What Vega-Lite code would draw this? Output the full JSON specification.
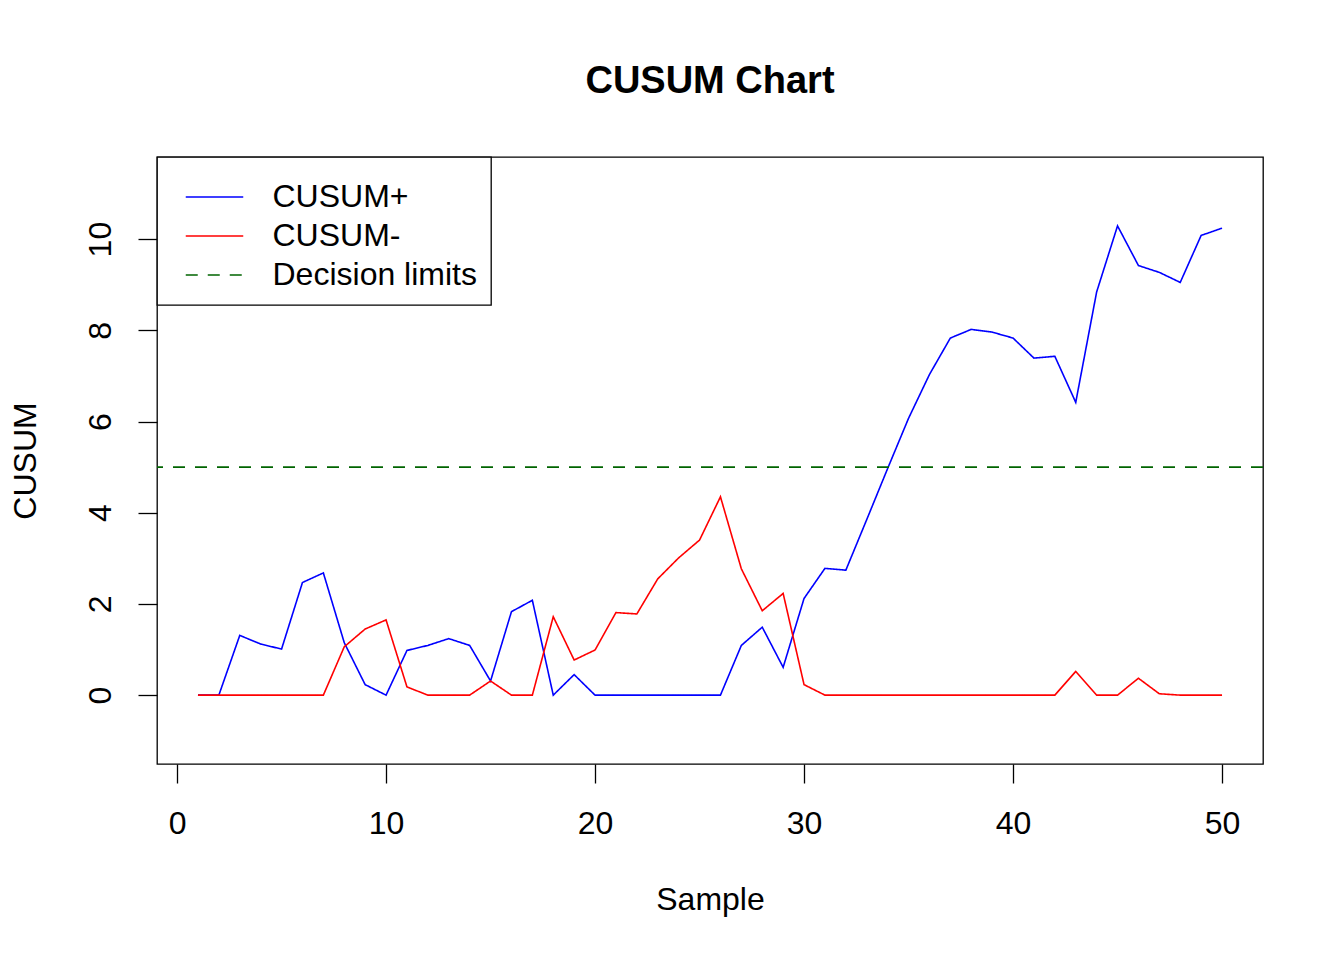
{
  "$schema": "https://vega.github.io/schema/vega-lite/v6.json",
  "width": 1106,
  "height": 607,
  "autosize": {"type": "none"},
  "padding": {"left": 157, "top": 157, "right": 81, "bottom": 196},
  "background": "white",
  "title": {"text": "CUSUM Chart", "fontSize": 38, "fontWeight": "bold", "font": "Liberation Sans", "color": "black", "anchor": "middle", "frame": "group", "baseline": "alphabetic", "offset": 25},
  "config": {
    "view": {"stroke": "black", "strokeWidth": 1.3},
    "legend": {
      "orient": "top-left", "offset": 0, "padding": 14,
      "strokeColor": "black", "strokeWidth": 1.3, "fillColor": "white", "cornerRadius": 0,
      "symbolType": "M-2.5,0H2.5", "symbolSize": 529, "symbolStrokeWidth": 1.6, "symbolOffset": 27.5,
      "labelFontSize": 32, "labelFont": "Liberation Sans", "labelColor": "black", "labelOffset": 42, "labelLimit": 0,
      "rowPadding": 7,
      "titleFontSize": 2, "titlePadding": 8, "titleColor": "white"
    }
  },
  "datasets": {
    "cusum": [
      {"sample": 1, "series": "CUSUM+", "value": 0},
      {"sample": 2, "series": "CUSUM+", "value": 0},
      {"sample": 3, "series": "CUSUM+", "value": 1.31},
      {"sample": 4, "series": "CUSUM+", "value": 1.12},
      {"sample": 5, "series": "CUSUM+", "value": 1.01},
      {"sample": 6, "series": "CUSUM+", "value": 2.47},
      {"sample": 7, "series": "CUSUM+", "value": 2.68},
      {"sample": 8, "series": "CUSUM+", "value": 1.15},
      {"sample": 9, "series": "CUSUM+", "value": 0.23},
      {"sample": 10, "series": "CUSUM+", "value": 0},
      {"sample": 11, "series": "CUSUM+", "value": 0.98},
      {"sample": 12, "series": "CUSUM+", "value": 1.09},
      {"sample": 13, "series": "CUSUM+", "value": 1.24},
      {"sample": 14, "series": "CUSUM+", "value": 1.09},
      {"sample": 15, "series": "CUSUM+", "value": 0.31},
      {"sample": 16, "series": "CUSUM+", "value": 1.83},
      {"sample": 17, "series": "CUSUM+", "value": 2.08},
      {"sample": 18, "series": "CUSUM+", "value": 0},
      {"sample": 19, "series": "CUSUM+", "value": 0.45},
      {"sample": 20, "series": "CUSUM+", "value": 0},
      {"sample": 21, "series": "CUSUM+", "value": 0},
      {"sample": 22, "series": "CUSUM+", "value": 0},
      {"sample": 23, "series": "CUSUM+", "value": 0},
      {"sample": 24, "series": "CUSUM+", "value": 0},
      {"sample": 25, "series": "CUSUM+", "value": 0},
      {"sample": 26, "series": "CUSUM+", "value": 0},
      {"sample": 27, "series": "CUSUM+", "value": 1.09},
      {"sample": 28, "series": "CUSUM+", "value": 1.49},
      {"sample": 29, "series": "CUSUM+", "value": 0.61},
      {"sample": 30, "series": "CUSUM+", "value": 2.12},
      {"sample": 31, "series": "CUSUM+", "value": 2.78},
      {"sample": 32, "series": "CUSUM+", "value": 2.74},
      {"sample": 33, "series": "CUSUM+", "value": 3.85},
      {"sample": 34, "series": "CUSUM+", "value": 4.97},
      {"sample": 35, "series": "CUSUM+", "value": 6.07},
      {"sample": 36, "series": "CUSUM+", "value": 7.03},
      {"sample": 37, "series": "CUSUM+", "value": 7.83},
      {"sample": 38, "series": "CUSUM+", "value": 8.02},
      {"sample": 39, "series": "CUSUM+", "value": 7.96},
      {"sample": 40, "series": "CUSUM+", "value": 7.83},
      {"sample": 41, "series": "CUSUM+", "value": 7.39},
      {"sample": 42, "series": "CUSUM+", "value": 7.43},
      {"sample": 43, "series": "CUSUM+", "value": 6.42},
      {"sample": 44, "series": "CUSUM+", "value": 8.84},
      {"sample": 45, "series": "CUSUM+", "value": 10.29},
      {"sample": 46, "series": "CUSUM+", "value": 9.42},
      {"sample": 47, "series": "CUSUM+", "value": 9.27},
      {"sample": 48, "series": "CUSUM+", "value": 9.05},
      {"sample": 49, "series": "CUSUM+", "value": 10.08},
      {"sample": 50, "series": "CUSUM+", "value": 10.24},
      {"sample": 1, "series": "CUSUM-", "value": 0},
      {"sample": 2, "series": "CUSUM-", "value": 0},
      {"sample": 3, "series": "CUSUM-", "value": 0},
      {"sample": 4, "series": "CUSUM-", "value": 0},
      {"sample": 5, "series": "CUSUM-", "value": 0},
      {"sample": 6, "series": "CUSUM-", "value": 0},
      {"sample": 7, "series": "CUSUM-", "value": 0},
      {"sample": 8, "series": "CUSUM-", "value": 1.06},
      {"sample": 9, "series": "CUSUM-", "value": 1.45},
      {"sample": 10, "series": "CUSUM-", "value": 1.65},
      {"sample": 11, "series": "CUSUM-", "value": 0.18},
      {"sample": 12, "series": "CUSUM-", "value": 0},
      {"sample": 13, "series": "CUSUM-", "value": 0},
      {"sample": 14, "series": "CUSUM-", "value": 0},
      {"sample": 15, "series": "CUSUM-", "value": 0.31},
      {"sample": 16, "series": "CUSUM-", "value": 0},
      {"sample": 17, "series": "CUSUM-", "value": 0},
      {"sample": 18, "series": "CUSUM-", "value": 1.72},
      {"sample": 19, "series": "CUSUM-", "value": 0.77},
      {"sample": 20, "series": "CUSUM-", "value": 0.99},
      {"sample": 21, "series": "CUSUM-", "value": 1.81},
      {"sample": 22, "series": "CUSUM-", "value": 1.78},
      {"sample": 23, "series": "CUSUM-", "value": 2.55},
      {"sample": 24, "series": "CUSUM-", "value": 3.01},
      {"sample": 25, "series": "CUSUM-", "value": 3.40},
      {"sample": 26, "series": "CUSUM-", "value": 4.35},
      {"sample": 27, "series": "CUSUM-", "value": 2.77},
      {"sample": 28, "series": "CUSUM-", "value": 1.85},
      {"sample": 29, "series": "CUSUM-", "value": 2.23},
      {"sample": 30, "series": "CUSUM-", "value": 0.23},
      {"sample": 31, "series": "CUSUM-", "value": 0},
      {"sample": 32, "series": "CUSUM-", "value": 0},
      {"sample": 33, "series": "CUSUM-", "value": 0},
      {"sample": 34, "series": "CUSUM-", "value": 0},
      {"sample": 35, "series": "CUSUM-", "value": 0},
      {"sample": 36, "series": "CUSUM-", "value": 0},
      {"sample": 37, "series": "CUSUM-", "value": 0},
      {"sample": 38, "series": "CUSUM-", "value": 0},
      {"sample": 39, "series": "CUSUM-", "value": 0},
      {"sample": 40, "series": "CUSUM-", "value": 0},
      {"sample": 41, "series": "CUSUM-", "value": 0},
      {"sample": 42, "series": "CUSUM-", "value": 0},
      {"sample": 43, "series": "CUSUM-", "value": 0.52},
      {"sample": 44, "series": "CUSUM-", "value": 0},
      {"sample": 45, "series": "CUSUM-", "value": 0},
      {"sample": 46, "series": "CUSUM-", "value": 0.37},
      {"sample": 47, "series": "CUSUM-", "value": 0.03},
      {"sample": 48, "series": "CUSUM-", "value": 0},
      {"sample": 49, "series": "CUSUM-", "value": 0},
      {"sample": 50, "series": "CUSUM-", "value": 0}
    ],
    "limits": [
      {"series": "Decision limits", "value": 5}
    ]
  },
  "layer": [
    {
      "data": {"name": "cusum"},
      "mark": {"type": "line", "strokeWidth": 1.6},
      "encoding": {
        "x": {
          "field": "sample", "type": "quantitative",
          "scale": {"domain": [-0.96, 51.96], "nice": false, "zero": false},
          "axis": {
            "values": [0, 10, 20, 30, 40, 50], "domain": false, "grid": false,
            "tickSize": 19, "tickColor": "black", "tickWidth": 1.3,
            "labelFontSize": 32, "labelFont": "Liberation Sans", "labelColor": "black",
            "labelBaseline": "alphabetic", "labelPadding": 50, "labelFlush": false,
            "title": "Sample", "titleFontSize": 32, "titleFont": "Liberation Sans", "titleFontWeight": "normal", "titleColor": "black",
            "titleBaseline": "alphabetic", "titleY": 145
          }
        },
        "y": {
          "field": "value", "type": "quantitative",
          "scale": {"domain": [-1.51, 11.8], "nice": false, "zero": false},
          "axis": {
            "values": [0, 2, 4, 6, 8, 10], "domain": false, "grid": false,
            "tickSize": 19, "tickColor": "black", "tickWidth": 1.3,
            "labelFontSize": 32, "labelFont": "Liberation Sans", "labelColor": "black",
            "labelAngle": 270, "labelAlign": "center", "labelBaseline": "alphabetic", "labelPadding": 28, "labelFlush": false,
            "title": "CUSUM", "titleFontSize": 32, "titleFont": "Liberation Sans", "titleFontWeight": "normal", "titleColor": "black",
            "titleAngle": 270, "titleAlign": "center", "titleBaseline": "alphabetic", "titleX": -122, "titleY": 303.5
          }
        },
        "color": {
          "field": "series", "type": "nominal",
          "scale": {"domain": ["CUSUM+", "CUSUM-", "Decision limits"], "range": ["#0000FF", "#FF0000", "#006400"]},
          "legend": {"title": " "}
        },
        "strokeDash": {
          "field": "series", "type": "nominal",
          "scale": {"domain": ["CUSUM+", "CUSUM-", "Decision limits"], "range": [[1, 0], [1, 0], [12, 10]]},
          "legend": {"title": " "}
        }
      }
    },
    {
      "data": {"name": "limits"},
      "mark": {"type": "rule", "strokeWidth": 1.6},
      "encoding": {
        "y": {"field": "value", "type": "quantitative"},
        "color": {"field": "series", "type": "nominal"},
        "strokeDash": {"field": "series", "type": "nominal"}
      }
    }
  ]
}
